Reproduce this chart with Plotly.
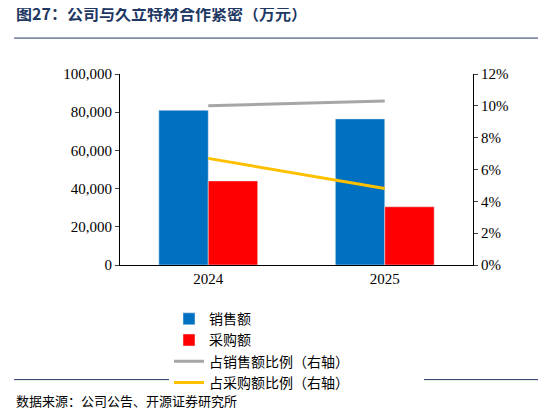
import plotly.graph_objects as go

years = ["2024", "2025"]
sales = [81000, 76500]
purchase = [44000, 30500]
sales_ratio = [10.0, 10.3]
purchase_ratio = [6.7, 4.8]

fig = go.Figure()
fig.add_bar(x=years, y=sales, name="销售额", marker_color="#0070C0", width=0.28, offset=-0.28)
fig.add_bar(x=years, y=purchase, name="采购额", marker_color="#FF0000", width=0.28, offset=0)
fig.add_scatter(x=years, y=sales_ratio, name="占销售额比例（右轴）", yaxis="y2", mode="lines",
                line=dict(color="#A6A6A6", width=3))
fig.add_scatter(x=years, y=purchase_ratio, name="占采购额比例（右轴）", yaxis="y2", mode="lines",
                line=dict(color="#FFC000", width=3))

font = "Noto Sans CJK SC"
fig.update_layout(
    width=546, height=408, plot_bgcolor="white", paper_bgcolor="white",
    margin=dict(l=112, r=81, t=66, b=151),
    font=dict(family="Liberation Serif", size=15, color="black"),
    bargap=0.3,
    xaxis=dict(showline=True, linecolor="black", ticks="", tickfont=dict(size=15)),
    yaxis=dict(range=[0, 100000], dtick=20000, tickformat=",", showline=True, linecolor="black",
               ticks="outside", ticklen=4, showgrid=False, zeroline=False),
    yaxis2=dict(range=[0, 12], dtick=2, ticksuffix="%", overlaying="y", side="right", showline=True,
                linecolor="black", ticks="outside", ticklen=4, showgrid=False, zeroline=False),
    legend=dict(orientation="h", x=0.5, xanchor="center", y=-0.2, yanchor="top",
                font=dict(family=font, size=14), entrywidth=210, tracegroupgap=2),
    showlegend=True,
)
fig.add_annotation(text="<b>图27：公司与久立特材合作紧密（万元）</b>", xref="paper", yref="paper",
                   x=-0.3, y=1.32, xanchor="left", yanchor="middle", showarrow=False,
                   font=dict(family=font, size=16, color="#1F3864"))
fig.add_shape(type="line", xref="paper", yref="paper", x0=-0.3, x1=1.24, y0=1.188, y1=1.188,
              line=dict(color="#1F3864", width=1))
fig.add_shape(type="line", xref="paper", yref="paper", x0=-0.3, x1=1.24, y0=-0.6, y1=-0.6,
              line=dict(color="#1F3864", width=1))
fig.add_annotation(text="数据来源：公司公告、开源证券研究所", xref="paper", yref="paper",
                   x=-0.3, y=-0.71, xanchor="left", yanchor="middle", showarrow=False,
                   font=dict(family=font, size=13, color="black"))
fig.write_html("out.html")
